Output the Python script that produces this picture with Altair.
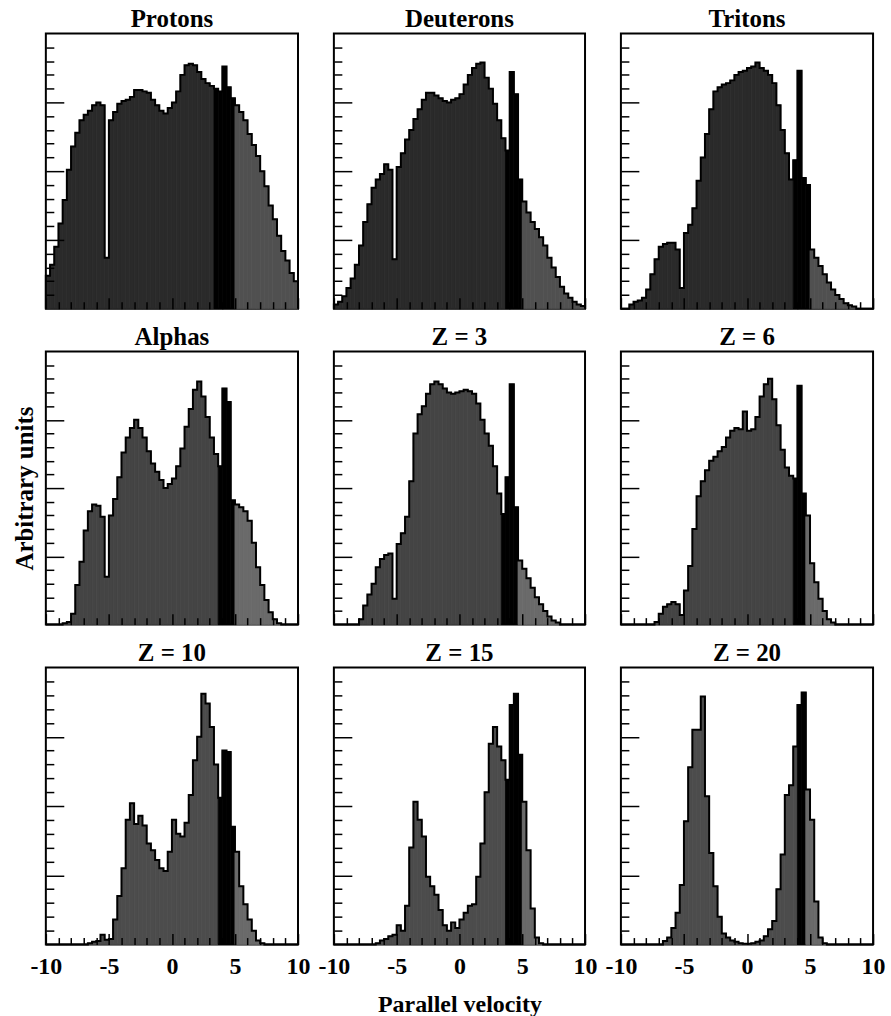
import altair as alt
import pandas as pd

# ---------------- data ----------------
PANEL_NAMES = ["Protons", "Deuterons", "Tritons",
               "Alphas", "Z = 3", "Z = 6",
               "Z = 10", "Z = 15", "Z = 20"]

BIN_WIDTH = 1 / 3          # histogram bin width (velocity units)
X_START = -10              # left edge of the first bin
X_END = 10
X_TICKS = list(range(-10, 11))
Y_TICKS = list(range(1, 20))

PROTONS = [2.4, 3.2, 4.5, 6.2, 7.9, 10.1, 11.8, 12.8, 13.7, 14.1,
           14.4, 14.8, 15.0, 14.8, 3.7, 13.7, 14.3, 14.9, 15.1, 15.2,
           15.4, 15.9, 15.9, 15.8, 15.7, 15.2, 14.8, 14.4, 14.2, 14.6,
           15.0, 15.8, 17.0, 17.7, 17.8, 17.7, 17.2, 16.7, 16.4, 16.2,
           16.0, 15.8, 17.6, 16.1, 15.3, 14.8, 14.3, 13.7, 12.7, 11.9,
           11.1, 10.0, 8.9, 7.5, 6.5, 5.3, 4.2, 3.5, 2.6, 2.0]

DEUTERONS = [0.3, 0.5, 0.9, 1.5, 2.2, 3.2, 4.6, 6.3, 7.6, 8.8,
             9.4, 9.8, 10.5, 10.1, 3.6, 10.3, 11.3, 12.3, 13.0, 13.8,
             14.5, 15.2, 15.7, 15.7, 15.5, 15.3, 15.1, 15.0, 15.2, 15.3,
             15.6, 16.3, 17.0, 17.5, 17.8, 17.9, 16.8, 16.0, 14.9, 13.7,
             12.4, 11.5, 17.2, 15.6, 9.4, 7.8, 7.0, 6.3, 5.8, 5.2,
             4.6, 3.7, 3.0, 2.3, 1.6, 1.1, 0.8, 0.5, 0.3, 0.2]

TRITONS = [0, 0, 0.3, 0.5, 0.6, 0.8, 1.4, 2.5, 3.6, 4.5,
           4.7, 4.8, 4.8, 4.3, 1.5, 5.5, 6.1, 7.3, 9.3, 11.0,
           12.7, 14.5, 15.8, 16.1, 16.3, 16.4, 16.6, 17.0, 17.2, 17.3,
           17.5, 17.6, 17.9, 17.5, 17.3, 17.0, 16.4, 14.8, 13.0, 11.3,
           9.4, 10.8, 17.3, 9.5, 9.0, 4.3, 3.7, 3.1, 2.5, 1.9,
           1.4, 1.0, 0.7, 0.4, 0.25, 0.15, 0, 0, 0, 0]

ALPHAS = [0, 0, 0, 0, 0.1, 0.2, 0.8, 2.9, 4.6, 6.9,
          8.3, 8.8, 8.7, 7.9, 3.5, 8.0, 9.2, 10.8, 12.6, 13.7,
          14.4, 15.0, 14.4, 13.7, 12.7, 11.8, 11.2, 10.6, 10.0, 10.3,
          10.7, 11.6, 12.9, 14.5, 15.8, 17.2, 17.8, 16.7, 15.2, 13.7,
          12.5, 11.6, 17.3, 16.3, 9.1, 8.8, 8.6, 8.3, 7.6, 6.0,
          4.2, 2.9, 1.8, 0.9, 0.4, 0.1, 0, 0, 0, 0]

Z3 = [0, 0, 0, 0, 0, 0, 0.4, 1.4, 2.2, 3.0,
      4.2, 4.8, 5.1, 5.2, 1.9, 5.9, 6.7, 7.9, 10.5, 14.0,
      15.4, 16.0, 16.9, 17.6, 17.8, 17.6, 17.3, 17.0, 16.9, 17.0,
      17.1, 17.2, 17.1, 16.9, 16.2, 15.0, 14.0, 13.1, 11.6, 9.6,
      8.1, 10.8, 17.6, 8.6, 4.7, 4.1, 3.4, 2.7, 2.0, 1.5,
      1.0, 0.6, 0.3, 0.15, 0, 0, 0, 0, 0, 0]

Z6 = [0, 0, 0, 0, 0, 0, 0, 0, 0.2, 0.8,
      1.3, 1.5, 1.65, 1.5, 0.7, 2.5, 4.3, 7.0, 9.4, 10.5,
      11.3, 12.0, 12.3, 12.7, 13.0, 13.7, 14.2, 14.4, 14.3, 15.6,
      14.2, 14.3, 15.2, 16.7, 17.6, 18.0, 16.5, 14.6, 12.8, 11.5,
      10.9, 10.7, 17.5, 9.6, 8.0, 4.5, 3.1, 1.9, 1.0, 0.4,
      0.15, 0, 0, 0, 0, 0, 0, 0, 0, 0]

Z10 = [0, 0, 0, 0, 0, 0, 0, 0, 0, 0,
       0.1, 0.2, 0.25, 0.7, 0.35, 0.4, 1.8, 3.5, 5.5, 9.0,
       10.2, 8.7, 9.3, 8.6, 7.3, 6.8, 6.1, 5.5, 5.3, 6.7,
       9.0, 8.0, 7.8, 8.8, 10.8, 13.3, 15.0, 18.1, 17.4, 15.7,
       13.0, 10.6, 14.0, 13.9, 8.5, 6.7, 4.2, 2.9, 1.8, 1.0,
       0.3, 0.1, 0, 0, 0, 0, 0, 0, 0, 0]

Z15 = [0, 0, 0, 0, 0, 0, 0, 0, 0, 0,
       0.1, 0.3, 0.4, 0.6, 0.7, 1.4, 1.0, 2.8, 7.0, 10.3,
       9.0, 7.8, 4.9, 4.2, 3.6, 2.5, 1.4, 1.0, 1.6, 1.2,
       1.8, 2.3, 2.8, 2.9, 4.9, 7.3, 11.0, 14.5, 15.7, 14.3,
       13.3, 11.9, 17.3, 18.1, 13.7, 10.3, 6.8, 2.6, 0.5, 0.1,
       0, 0, 0, 0, 0, 0, 0, 0, 0, 0]

Z20 = [0, 0, 0, 0, 0, 0, 0, 0, 0, 0,
       0.25, 0.5, 1.2, 2.3, 4.3, 8.9, 12.8, 15.5, 15.5, 17.9,
       10.7, 6.6, 4.2, 2.0, 0.8, 0.5, 0.3, 0.2, 0.1, 0.05,
       0.05, 0.1, 0.2, 0.3, 0.6, 1.1, 1.7, 4.0, 6.5, 10.8,
       11.5, 14.3, 17.3, 18.2, 11.2, 9.0, 3.1, 0.5, 0.1, 0,
       0, 0, 0, 0, 0, 0, 0, 0, 0, 0]

PANEL_VALUES = [PROTONS, DEUTERONS, TRITONS, ALPHAS, Z3, Z6, Z10, Z15, Z20]

# first and last bin of the solid black (projectile-like) component
BLACK_FIRST = [40, 41, 41, 41, 40, 41, 41, 41, 42]
BLACK_LAST = [44, 44, 44, 44, 43, 43, 44, 44, 43]

# ---------------- styling ----------------
FONT = "Liberation Serif"
SHADE_DOMAIN = ["dark0", "band0", "light0", "dark1", "band1", "light1",
                "dark2", "band2", "light2"]
SHADE_RANGE = ["#2a2a2a", "#000000", "#505050",
               "#444444", "#000000", "#6a6a6a",
               "#4c4c4c", "#000000", "#6a6a6a"]
PANEL_W = [253, 252, 253]
PANEL_H = [276, 274, 278]


def make_panel(i):
    name = PANEL_NAMES[i]
    vals = PANEL_VALUES[i]
    row, col = divmod(i, 3)
    recs = []
    for k, v in enumerate(vals):
        x0 = X_START + k * BIN_WIDTH
        if BLACK_FIRST[i] <= k <= BLACK_LAST[i]:
            shade = "band"
        elif k > BLACK_LAST[i]:
            shade = "light"
        else:
            shade = "dark"
        recs.append({"k": k, "x0": x0, "x1": x0 + BIN_WIDTH, "v": v,
                     "shade": f"{shade}{row}"})
    bars_df = pd.DataFrame(recs)
    line_recs = [{"o": 0, "x": X_START, "v": 0}]
    line_recs += [{"o": r["k"] + 1, "x": r["x0"], "v": r["v"]} for r in recs]
    line_recs += [{"o": len(recs) + 1, "x": X_END, "v": 0}]
    line_df = pd.DataFrame(line_recs)

    xscale = alt.Scale(domain=[X_START, X_END], nice=False, zero=False)
    yscale = alt.Scale(domain=[0, 20], nice=False)
    shade_scale = alt.Scale(domain=SHADE_DOMAIN, range=SHADE_RANGE)

    x_axis_kw = dict(values=X_TICKS, tickCount=100, grid=False, domain=False,
                     tickColor="black", tickWidth=1.5,
                     tickSize={"expr": "datum.value % 5 === 0 ? -11 : -7"},
                     labels=(row == 2), labelFlush=False, labelOverlap=False,
                     labelExpr="datum.value % 5 === 0 ? '' + datum.value : ''",
                     labelFont=FONT, labelFontSize=24, labelFontWeight="bold",
                     labelColor="black", labelPadding=21,
                     title=("Parallel velocity" if i == 7 else None),
                     titleFont=FONT, titleFontSize=24, titleFontWeight="bold",
                     titleColor="black", titlePadding=10, zindex=1)
    y_axis_kw = dict(values=Y_TICKS, tickCount=100, grid=False, domain=False,
                     tickColor="black", tickWidth=1.5,
                     tickSize={"expr": "datum.value % 5 === 0 ? -18 : -8"},
                     labels=False,
                     title=("Arbitrary units" if i == 3 else None),
                     titleFont=FONT, titleFontSize=25, titleFontWeight="bold",
                     titleColor="black", titlePadding=8, zindex=1)

    bars = alt.Chart(bars_df).mark_rect(strokeWidth=0.8).encode(
        x=alt.X("x0:Q", scale=xscale, axis=alt.Axis(**x_axis_kw)),
        x2="x1:Q",
        y=alt.Y("v:Q", scale=yscale, axis=alt.Axis(**y_axis_kw)),
        y2=alt.datum(0),
        color=alt.Color("shade:N", scale=shade_scale, legend=None),
        stroke=alt.Stroke("shade:N", scale=shade_scale, legend=None),
    )
    outline = alt.Chart(line_df).mark_line(
        interpolate="step-after", color="black", strokeWidth=2
    ).encode(
        x=alt.X("x:Q", scale=xscale),
        y=alt.Y("v:Q", scale=yscale),
        order="o:Q",
    )
    return alt.layer(bars, outline).properties(
        width=PANEL_W[col], height=PANEL_H[row],
        title=alt.TitleParams(name, font=FONT, fontSize=25, fontWeight="bold",
                              color="black", offset=2),
    )


chart = alt.concat(
    *[make_panel(i) for i in range(9)],
    columns=3,
    spacing=alt.RowColnumber(row=43, column=36),
    bounds="flush",
).configure_view(
    stroke="black", strokeWidth=2
).properties(
    padding={"left": 11, "top": 4, "right": 5, "bottom": 5},
    background="white",
)

chart.save("out.html", embed_options={"renderer": "svg", "actions": False})
